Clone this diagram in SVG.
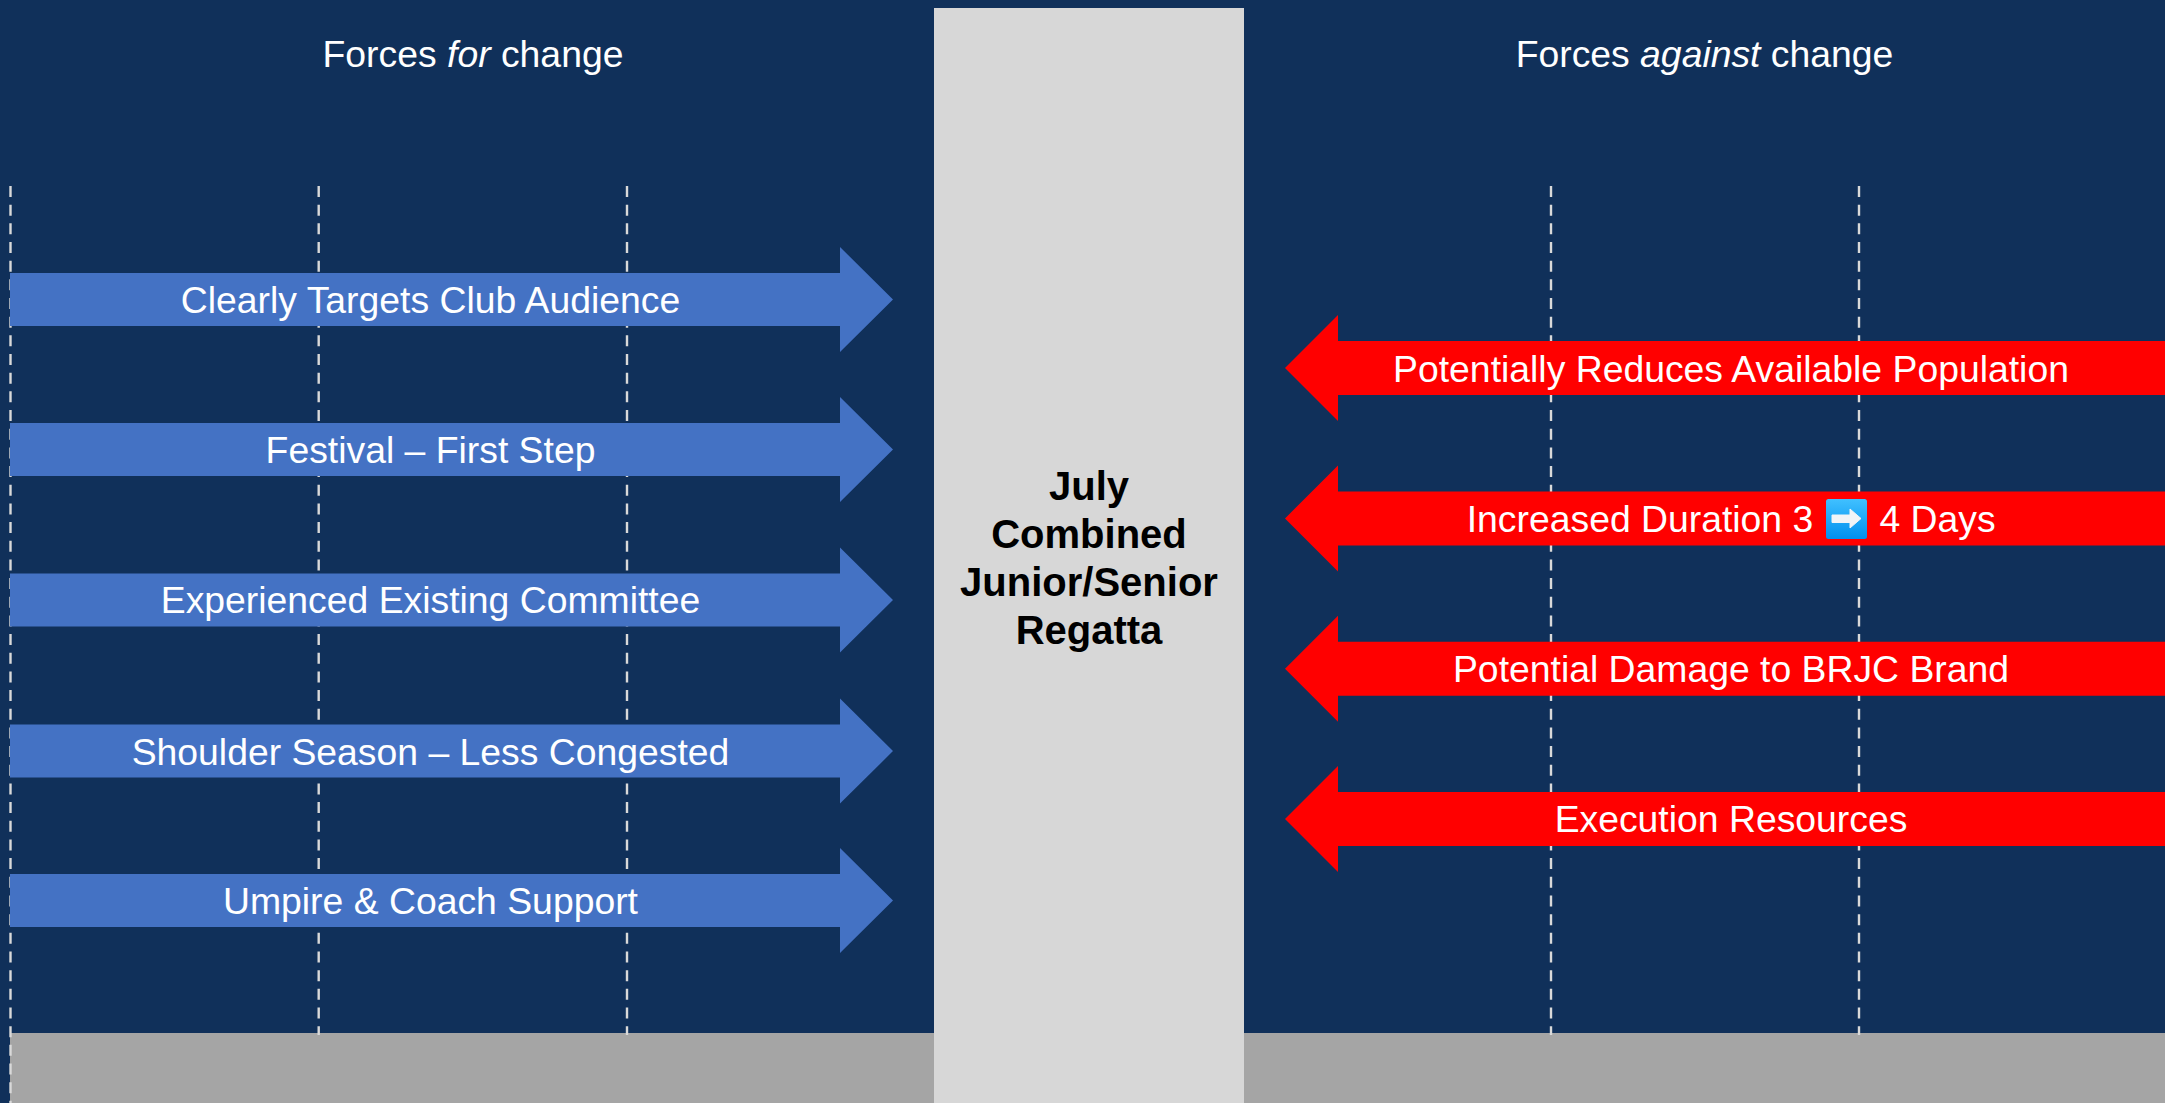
<svg xmlns="http://www.w3.org/2000/svg" width="2165" height="1103" viewBox="0 0 2165 1103">
<style>
text{font-family:"Liberation Sans",Arial,sans-serif;fill:#fff;font-size:37.33px;text-anchor:middle}
.dash{stroke:#d9d9d9;stroke-width:2.4;stroke-dasharray:11 7.67;fill:none}
.for{fill:#4472C4}
.against{fill:#FF0000}
text.center{fill:#000;font-weight:700;font-size:40px}
</style>
<defs>
<linearGradient id="emoji" x1="0" y1="0" x2="0" y2="1"><stop offset="0" stop-color="#40C0FF"/><stop offset="1" stop-color="#0090EE"/></linearGradient>
<polygon id="ra" points="10,273 840,273 840,247 893,299.5 840,352 840,326 10,326"/>
<polygon id="la" points="2165,341 1338,341 1338,315 1285,368 1338,421 1338,395 2165,395"/>
</defs>
<rect id="background" width="2165" height="1103" fill="#10305A"/>
<rect id="ground" x="10" y="1033" width="2155" height="70" fill="#A5A5A5"/>
<g id="connectors">
<line class="dash" x1="10.5" y1="186" x2="10.5" y2="1103"/>
<line class="dash" x1="318.7" y1="186" x2="318.7" y2="1035"/>
<line class="dash" x1="627" y1="186" x2="627" y2="1035"/>
<line class="dash" x1="1551" y1="186" x2="1551" y2="1035"/>
<line class="dash" x1="1859" y1="186" x2="1859" y2="1035"/>
</g>
<g id="center-column">
<rect x="934" y="8" width="310" height="1095" fill="#D7D7D7"/>
<text class="center" x="1089" y="500">July</text>
<text class="center" x="1089" y="548">Combined</text>
<text class="center" x="1089" y="596">Junior/Senior</text>
<text class="center" x="1089" y="644">Regatta</text>
</g>
<text id="title-for" x="473" y="67">Forces <tspan font-style="italic">for</tspan> change</text>
<text id="title-against" x="1704.5" y="67">Forces <tspan font-style="italic">against</tspan> change</text>
<g id="for-1"><use href="#ra" class="for"/><text x="430.5" y="313">Clearly Targets Club Audience</text></g>
<g id="for-2"><use href="#ra" class="for" y="150"/><text x="430.5" y="463">Festival – First Step</text></g>
<g id="for-3"><use href="#ra" class="for" y="300.4"/><text x="430.5" y="613">Experienced Existing Committee</text></g>
<g id="for-4"><use href="#ra" class="for" y="451.6"/><text x="430.5" y="765">Shoulder Season – Less Congested</text></g>
<g id="for-5"><use href="#ra" class="for" y="601"/><text x="430.5" y="914">Umpire &amp; Coach Support</text></g>
<g id="against-1"><use href="#la" class="against"/><text x="1731" y="382">Potentially Reduces Available Population</text></g>
<g id="against-2"><use href="#la" class="against" y="150.4"/><text x="1640" y="532">Increased Duration 3</text><text x="1937.5" y="532">4 Days</text>
<rect x="1826" y="499" width="41" height="40" rx="2.5" fill="url(#emoji)"/>
<polygon points="1832,515 1850,515 1850,509 1861,518.5 1850,528 1850,522.5 1832,522.5" fill="#F1F4F7" stroke="#F1F4F7" stroke-width="1" stroke-linejoin="round"/></g>
<g id="against-3"><use href="#la" class="against" y="300.8"/><text x="1731" y="682">Potential Damage to BRJC Brand</text></g>
<g id="against-4"><use href="#la" class="against" y="451"/><text x="1731" y="832">Execution Resources</text></g>
</svg>
